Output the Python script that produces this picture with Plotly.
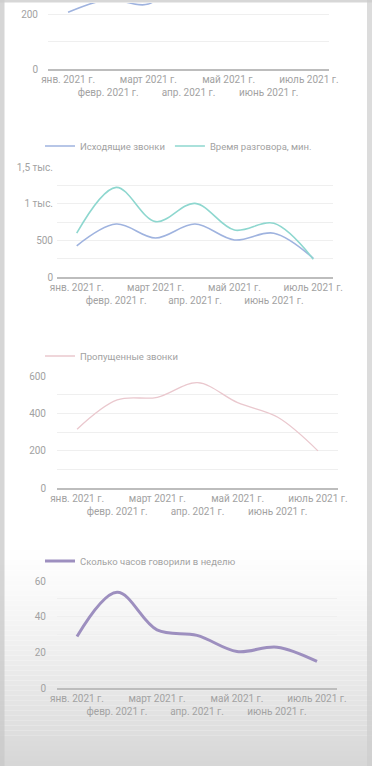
import plotly.graph_objects as go

months = ["янв. 2021 г.", "февр. 2021 г.", "март 2021 г.", "апр. 2021 г.",
          "май 2021 г.", "июнь 2021 г.", "июль 2021 г."]
x_idx = list(range(len(months)))

top_calls = [206, 252, 236, 360, 300, 330, 280]
outgoing_calls = [425, 722, 532, 722, 505, 597, 255]
talk_minutes = [597, 1222, 755, 1004, 640, 732, 243]
missed_calls = [315, 472, 486, 564, 457, 379, 199]
hours_per_week = [28.9, 53.7, 32.6, 29.5, 20.5, 22.9, 14.9]

W, H = 372, 766
TXT = "#a2a2a2"
FONT = "Roboto"


def py(px):
    return 1 - px / H


def pxx(px):
    return px / W


ticktext = [m if i % 2 == 0 else "<br>" + m for i, m in enumerate(months)]

fig = go.Figure()

charts = [
    dict(x=(48, 329), y=(3, 69), yr=[0, 240],
         tv=[0, 100, 200], tt=["0", "", "200"], standoff=9),
    dict(x=(57, 333), y=(167, 277), yr=[0, 1500],
         tv=[0, 250, 500, 750, 1000, 1250, 1500],
         tt=["0", "", "500", "", "1 тыс.", "", "1,5 тыс."], standoff=3),
    dict(x=(57, 338), y=(376, 488), yr=[0, 600],
         tv=[0, 100, 200, 300, 400, 500, 600],
         tt=["0", "", "200", "", "400", "", "600"], standoff=10),
    dict(x=(57, 337), y=(581, 688), yr=[0, 60],
         tv=[0, 10, 20, 30, 40, 50, 60],
         tt=["0", "", "20", "", "40", "", "60"], standoff=10),
]

layout_axes = {}
for i, c in enumerate(charts, start=1):
    xa = "xaxis" if i == 1 else f"xaxis{i}"
    ya = "yaxis" if i == 1 else f"yaxis{i}"
    layout_axes[xa] = dict(
        domain=[pxx(c["x"][0]), pxx(c["x"][1])],
        anchor="y" if i == 1 else f"y{i}",
        range=[-0.5, 6.5], tickvals=x_idx, ticktext=ticktext,
        tickangle=0, automargin=False,
        showgrid=False, zeroline=False, showline=True,
        linecolor="#bdbdbd", linewidth=1.5, ticks="",
        tickfont=dict(family=FONT, size=10, color=TXT), fixedrange=True,
    )
    layout_axes[ya] = dict(
        domain=[py(c["y"][1]), py(c["y"][0])],
        anchor="x" if i == 1 else f"x{i}",
        range=c["yr"], tickvals=c["tv"], ticktext=c["tt"],
        showgrid=True, gridcolor="#efefef", gridwidth=1, automargin=False,
        zeroline=False, showline=False, ticks="",
        ticklabelstandoff=c["standoff"],
        tickfont=dict(family=FONT, size=10, color=TXT), fixedrange=True,
    )

fig.add_trace(go.Scatter(x=x_idx, y=top_calls, mode="lines",
                         line=dict(color="#9fb3df", width=1.6, shape="spline", smoothing=1.0),
                         xaxis="x", yaxis="y", showlegend=False))
fig.add_trace(go.Scatter(x=x_idx, y=outgoing_calls, mode="lines", name="Исходящие звонки",
                         line=dict(color="#9fb3df", width=1.6, shape="spline", smoothing=1.0),
                         xaxis="x2", yaxis="y2", legend="legend"))
fig.add_trace(go.Scatter(x=x_idx, y=talk_minutes, mode="lines", name="Время разговора, мин.",
                         line=dict(color="#8ed7cf", width=1.6, shape="spline", smoothing=1.0),
                         xaxis="x2", yaxis="y2", legend="legend"))
fig.add_trace(go.Scatter(x=x_idx, y=missed_calls, mode="lines", name="Пропущенные звонки",
                         line=dict(color="#eac8ce", width=1.3, shape="spline", smoothing=1.0),
                         xaxis="x3", yaxis="y3", legend="legend2"))
fig.add_trace(go.Scatter(x=x_idx, y=hours_per_week, mode="lines", name="Сколько часов говорили в неделю",
                         line=dict(color="#9d8fbf", width=3, shape="spline", smoothing=1.0),
                         xaxis="x4", yaxis="y4", legend="legend3"))

legfont = dict(family=FONT, size=9.5, color=TXT)
leg_common = dict(orientation="h", xanchor="left", yanchor="middle", font=legfont,
                  bgcolor="rgba(0,0,0,0)", itemwidth=30, tracegroupgap=0,
                  itemclick=False, itemdoubleclick=False)

shapes = []
y0 = 540
steps = 45
for k in range(steps):
    a = y0 + (H - y0) * k / steps
    b = y0 + (H - y0) * (k + 1) / steps
    t = ((k + 0.5) / steps) ** 1.3
    g = int(round(255 - t * (255 - 214)))
    shapes.append(dict(type="rect", xref="paper", yref="paper", x0=0, x1=1,
                       y0=py(b), y1=py(a), line=dict(width=0),
                       fillcolor=f"rgb({g},{g},{g})", layer="below"))
shapes.append(dict(type="rect", xref="paper", yref="paper", x0=0, x1=pxx(4.5), y0=0, y1=1,
                   line=dict(width=0), fillcolor="rgba(200,200,200,0.75)", layer="below"))
shapes.append(dict(type="rect", xref="paper", yref="paper", x0=pxx(367), x1=1, y0=0, y1=1,
                   line=dict(width=0), fillcolor="rgba(205,205,205,0.7)", layer="below"))
shapes.append(dict(type="rect", xref="paper", yref="paper", x0=0, x1=1, y0=py(2.5), y1=1,
                   line=dict(width=0), fillcolor="rgba(205,205,205,0.8)", layer="below"))

fig.update_layout(
    width=W, height=H, autosize=False,
    margin=dict(l=0, r=0, t=0, b=0, autoexpand=False),
    paper_bgcolor="white", plot_bgcolor="rgba(0,0,0,0)",
    font=dict(family=FONT, color=TXT),
    legend=dict(x=pxx(40), y=py(146), **leg_common),
    legend2=dict(x=pxx(40), y=py(356), **leg_common),
    legend3=dict(x=pxx(40), y=py(561), **leg_common),
    shapes=shapes,
    hovermode=False,
    **layout_axes,
)

fig.write_html("out.html", config={"displayModeBar": False},
               post_script="document.body.style.margin='0';document.body.style.overflow='hidden';")
